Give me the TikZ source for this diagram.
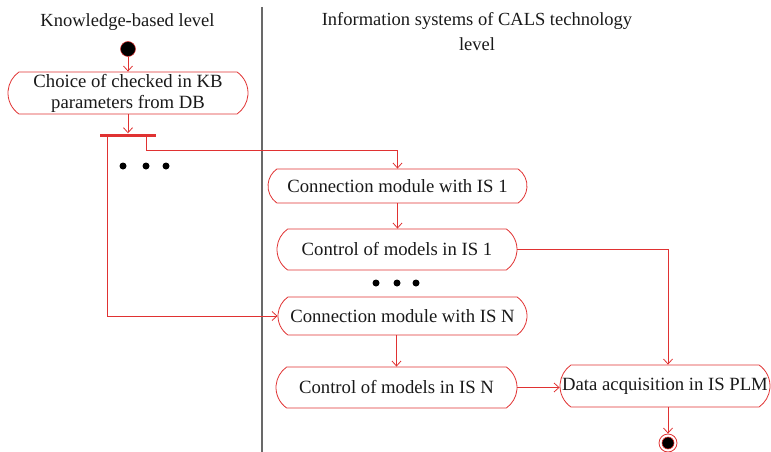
\documentclass[tikz,border=0pt]{standalone}
\usepackage{fontspec}
\setmainfont{Liberation Serif}
\usetikzlibrary{shapes.misc,arrows.meta}
\definecolor{umlred}{RGB}{224,50,50}
\definecolor{sepgray}{RGB}{105,105,105}
\definecolor{inktext}{RGB}{25,25,25}
\begin{document}
\begin{tikzpicture}[x=1pt,y=-1pt,
  txt/.style={font=\fontsize{18.7}{21}\selectfont, text=inktext, align=center, inner sep=0pt},
  hdr/.style={txt, font=\fontsize{18.5}{25}\selectfont},
  act/.style={txt, draw=umlred, line width=0.8pt, rounded rectangle,
    rounded rectangle arc length=110},
  arr/.style={draw=umlred, line width=0.8pt,
    -{Straight Barb[length=5pt,width=9pt,line width=0.8pt]}},
  bigdot/.style={circle, fill=black, inner sep=0pt, minimum size=7pt},
  bar/.style={fill=umlred, draw=none, inner sep=0pt, minimum width=56pt, minimum height=3pt}]
\useasboundingbox (0,0) rectangle (771,452);

% swimlane headers and separator
\node[hdr, anchor=base] (laneKB) at (127.5,27) {Knowledge-based level};
\node[hdr] (laneIS) at (477,31.5) {Information systems of CALS technology\\level};
\draw[sepgray, line width=1.4pt] (262,7) -- (262,452);

% initial node
\node[circle, fill=black, draw=umlred, line width=0.5pt, inner sep=0pt, minimum size=15pt] (start) at (128,49) {};

% actions
\node[act, minimum width=240pt, minimum height=42pt] (choice) at (128,93) {Choice of checked in KB\\parameters from DB};
\node[bar] (fork) at (128,135) {};
\node[act, minimum width=259pt, minimum height=34pt] (conn1) at (397.5,186) {Connection module with IS 1};
\node[act, minimum width=240pt, minimum height=41pt] (ctl1) at (397,249.5) {Control of models in IS 1};
\node[act, minimum width=249pt, minimum height=38pt] (connN) at (402.5,316) {Connection module with IS N};
\node[act, minimum width=241pt, minimum height=41pt] (ctlN) at (396.5,387.5) {Control of models in IS N};
\node[act, minimum width=210pt, minimum height=42pt] (data) at (665,386) {Data acquisition in IS PLM};

% final node
\node[circle, draw=umlred, line width=0.8pt, inner sep=0pt, minimum size=18pt,
  path picture={\fill[black, draw=umlred, line width=0.6pt] (path picture bounding box.center) circle (6pt);}] (final) at (668,443) {};

% ellipsis marks
\node[bigdot] (kbdotA) at (123,166) {};
\node[bigdot] (kbdotB) at (146,166) {};
\node[bigdot] (kbdotC) at (166,166) {};
\node[bigdot] (isdotA) at (376,283) {};
\node[bigdot] (isdotB) at (397,283) {};
\node[bigdot] (isdotC) at (416,283) {};

% control flows
\draw[arr] (start) -- (choice.north);
\draw[arr] (choice.south) -- (fork.north);
\draw[arr] ([xshift=8pt]fork.south west) |- (connN.west);
\draw[arr] ([xshift=-9.5pt]fork.south east) -- ++(0,14) -| (conn1.north);
\draw[arr] (conn1.south) -- (conn1.south |- ctl1.north);
\draw[arr] (ctl1.east) -| ([xshift=3pt]data.north);
\draw[arr] (connN.south -| ctlN.north) -- (ctlN.north);
\draw[arr] (ctlN.east) -- (ctlN.east -| data.west);
\draw[arr] ([xshift=3pt]data.south) -- (final.north);
\end{tikzpicture}
\end{document}
